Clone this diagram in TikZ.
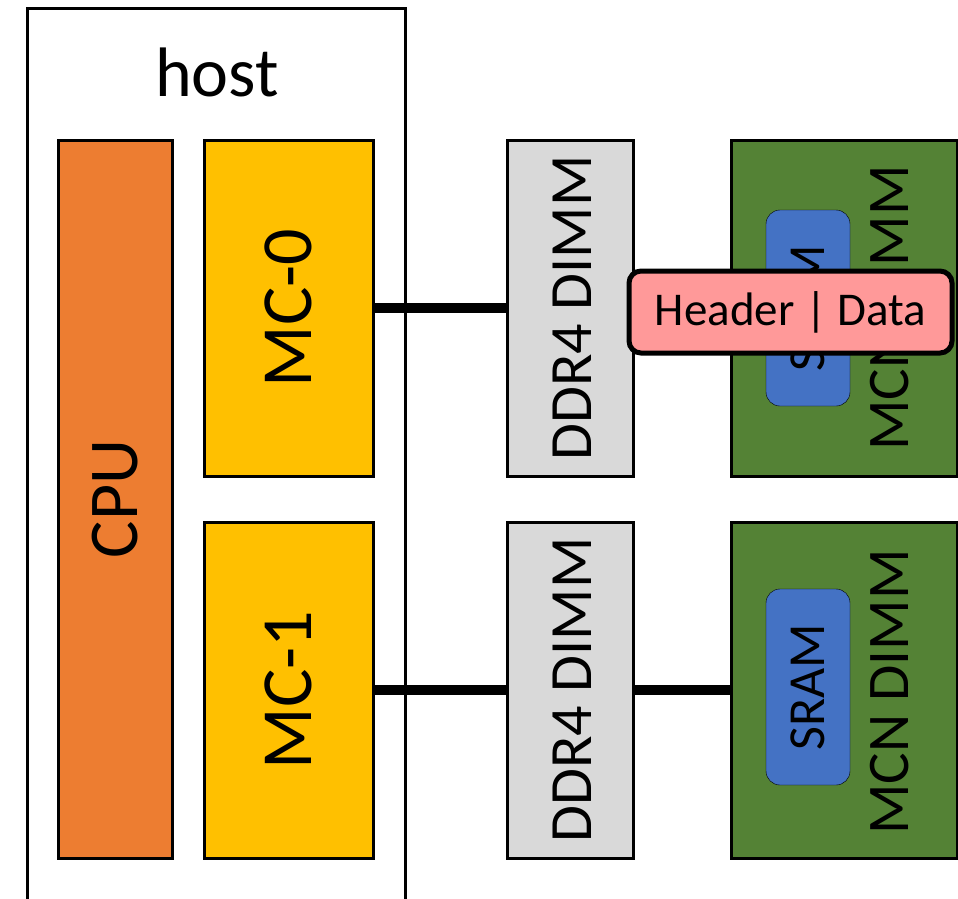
\documentclass[tikz,border=0pt]{standalone}
\usepackage{fontspec}
\setmainfont{Carlito}
\usetikzlibrary{positioning}

\definecolor{cpuorange}{HTML}{ED7D31}
\definecolor{mcyellow}{HTML}{FFC000}
\definecolor{dimmgray}{HTML}{D9D9D9}
\definecolor{mcngreen}{HTML}{548235}
\definecolor{sramblue}{HTML}{4472C4}
\definecolor{pktpink}{HTML}{FF9999}

\begin{document}
\begin{tikzpicture}[x=1pt,y=-1pt,
	blk/.style={draw, line width=3pt, inner sep=0pt},
	vlabel/.style={rotate=90, inner sep=0pt, font=\fontsize{#1}{#1}\selectfont},
	link/.style={line width=10pt}]
	\useasboundingbox (0,0) rectangle (958,898);

	% host frame
	\coordinate (hostBL) at (27,910);
	\coordinate (hostBR) at (405,910);
	\draw[line width=3pt] (hostBL) |- (405,8) -- (hostBR);
	\node[inner sep=0pt, font=\fontsize{70}{70}\selectfont] (host) at (217,72) {host};

	% host blocks
	\node[blk, fill=cpuorange, minimum width=114, minimum height=718] (cpu) at (115,499) {};
	\node[blk, fill=mcyellow, minimum width=169, minimum height=336] (mc0) at (288.5,308) {};
	\node[blk, fill=mcyellow, minimum width=169, minimum height=336] (mc1) at (288.5,690) {};
	\node[vlabel=70] (cpuT) at (cpu) {CPU};
	\node[vlabel=72] (mc0T) at (mc0) {MC-0};
	\node[vlabel=72] (mc1T) at (mc1) {MC-1};

	% DIMMs
	\node[blk, fill=dimmgray, minimum width=126, minimum height=336] (ddr0) at (570,308) {};
	\node[blk, fill=dimmgray, minimum width=126, minimum height=336] (ddr1) at (570,690) {};
	\node[vlabel=60] (ddr0T) at (572,308) {DDR4 DIMM};
	\node[vlabel=60] (ddr1T) at (572,690) {DDR4 DIMM};

	\node[blk, fill=mcngreen, minimum width=226, minimum height=336] (mcn0) at (844,308) {};
	\node[blk, fill=mcngreen, minimum width=226, minimum height=336] (mcn1) at (844,690) {};
	\node[draw, fill=sramblue, rounded corners=14pt, minimum width=84, minimum height=196] (sram0) at (808,308) {};
	\node[draw, fill=sramblue, rounded corners=14pt, minimum width=84, minimum height=196] (sram1) at (808,687) {};
	\node[vlabel=52] (sram0T) at (sram0) {SRAM};
	\node[vlabel=52] (sram1T) at (sram1) {SRAM};
	\node[vlabel=59] (mcn0T) at (890,308) {MCN DIMM};
	\node[vlabel=59] (mcn1T) at (890,692) {MCN DIMM};

	% channels
	\draw[link] (mc0.east) -- (ddr0.west);
	\draw[link] (mc1.east) -- (ddr1.west);
	\draw[link] (ddr1.east) -- (mcn1.west);

	% packet
	\node[draw, line width=5pt, fill=pktpink, rounded corners=12pt, minimum width=323, minimum height=82,
		font=\fontsize{47}{47}\selectfont] (pkt) at (790.5,312) {Header | Data};
\end{tikzpicture}
\end{document}
